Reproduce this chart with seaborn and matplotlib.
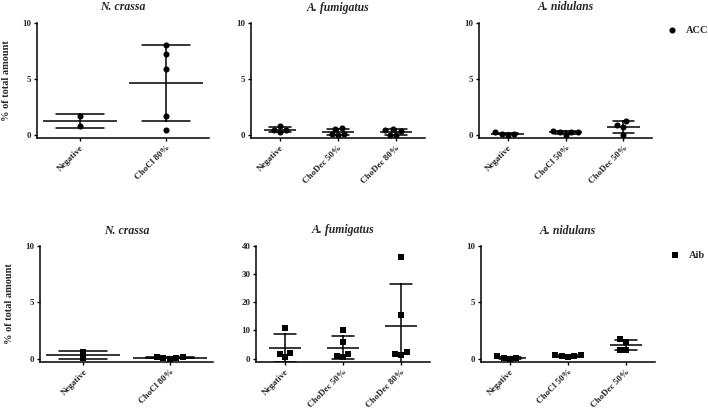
import pandas as pd
import seaborn as sns
import matplotlib.pyplot as plt

# Values (% of total amount)
species = ["N. crassa", "A. fumigatus", "A. nidulans"]
acc_groups = [["Negative", "ChoCl 80%"],
              ["Negative", "ChoDec 50%", "ChoDec 80%"],
              ["Negative", "ChoCl 50%", "ChoDec 50%"]]
acc_values = [
    [[1.7, 0.8], [8.0, 7.2, 5.9, 1.7, 0.4]],
    [[0.4, 0.2, 0.4, 0.8], [0.6, 0.1, 0.0, 0.05, 0.5], [0.5, 0.3, 0.0, 0.0, 0.4]],
    [[0.2, 0.1, 0.0, 0.1], [0.25, 0.0, 0.2, 0.25, 0.3], [0.9, 0.7, 0.0, 1.2]],
]
aib_groups = [["Negative", "ChoCl 80%"],
              ["Negative", "ChoDec 50%", "ChoDec 80%"],
              ["Negative", "ChoCl 50%", "ChoDec 50%"]]
aib_values = [
    [[0.6, 0.05], [0.1, 0.05, 0.0, 0.05, 0.1]],
    [[2.0, 0.5, 11.0, 1.7], [1.8, 0.6, 10.3, 5.8, 0.8], [2.3, 1.4, 36.2, 15.6, 1.6]],
    [[0.2, 0.0, 0.05, 0.05], [0.3, 0.2, 0.15, 0.2, 0.3], [1.7, 0.8, 1.5, 0.8]],
]
acc_ymax = [10, 10, 10]
aib_ymax = [10, 40, 10]
yticks = {10: [0, 5, 10], 40: [0, 10, 20, 30, 40]}

sns.set_theme(style="ticks")
plt.rcParams["font.family"] = ["Liberation Serif", "DejaVu Serif"]
plt.rcParams["font.weight"] = "bold"

fig = plt.figure(figsize=(7.08, 4.08), dpi=100)
W, H = 708, 408


def px_axes(x0, x1, ytop, ybot):
    return fig.add_axes([x0 / W, 1 - ybot / H, (x1 - x0) / W, (ybot - ytop) / H])


top_boxes = [(37, 209), (251, 425), (479, 652)]
bot_boxes = [(40, 213), (256, 430), (481, 655)]


def draw_panel(ax, groups, values, ymax, marker, title, ylabel):
    df = pd.DataFrame(
        [(g, v) for g, vals in zip(groups, values) for v in vals],
        columns=["group", "value"],
    )
    n = len(groups)
    sns.swarmplot(data=df, x="group", y="value", order=groups, ax=ax,
                  color="black", marker=marker, size=4.4, linewidth=0)
    sns.pointplot(data=df, x="group", y="value", order=groups, ax=ax,
                  errorbar="sd", capsize=1.1 / n, linestyle="none",
                  markers="", color="black", err_kws={"linewidth": 1.1})
    means = df.groupby("group")["value"].mean().reindex(groups)
    half = 0.85 / n
    for i, m in enumerate(means):
        ax.hlines(m, i - half, i + half, color="black", linewidth=1.1)
    ax.set_xlim(-0.5, n - 0.5)
    ax.set_ylim(-0.03 * ymax, ymax)
    ax.set_yticks(yticks[ymax])
    sns.despine(ax=ax)
    for s in ["left", "bottom"]:
        ax.spines[s].set_linewidth(1.1)
        ax.spines[s].set_color("black")
    ax.tick_params(axis="both", length=2.5, width=1, labelsize=6.5, pad=1.5,
                   color="black")
    ax.set_xticks(range(n))
    ax.set_xticklabels(groups, rotation=45, ha="right", rotation_mode="anchor",
                       fontsize=6.5, fontweight="bold")
    for t in ax.get_yticklabels():
        t.set_fontweight("bold")
    ax.set_xlabel("")
    ax.set_ylabel(ylabel, fontsize=7.5, fontweight="bold",
                  labelpad=8 if ymax == 10 else 4)
    ax.set_title(title, fontsize=8.5, fontweight="bold", style="italic", pad=9)
    return ax


def add_legend(ax, label, x, y):
    ax.legend(handles=[ax.collections[0]], labels=[label],
              loc="center left", bbox_to_anchor=(x / W, 1 - y / H),
              bbox_transform=fig.transFigure, frameon=False, borderpad=0,
              borderaxespad=0, handlelength=0.8, handletextpad=0.9,
              prop={"size": 7.5, "weight": "bold"})


for i in range(3):
    ax = px_axes(top_boxes[i][0], top_boxes[i][1], 23, 138)
    draw_panel(ax, acc_groups[i], acc_values[i], acc_ymax[i], "o", species[i],
               "% of total amount" if i == 0 else "")
    if i == 2:
        add_legend(ax, "ACC", 668, 30)

for i in range(3):
    ax = px_axes(bot_boxes[i][0], bot_boxes[i][1], 246, 362)
    draw_panel(ax, aib_groups[i], aib_values[i], aib_ymax[i], "s", species[i],
               "% of total amount" if i == 0 else "")
    if i == 2:
        add_legend(ax, "Aib", 671, 255)

fig.savefig("out.png", dpi=100)
